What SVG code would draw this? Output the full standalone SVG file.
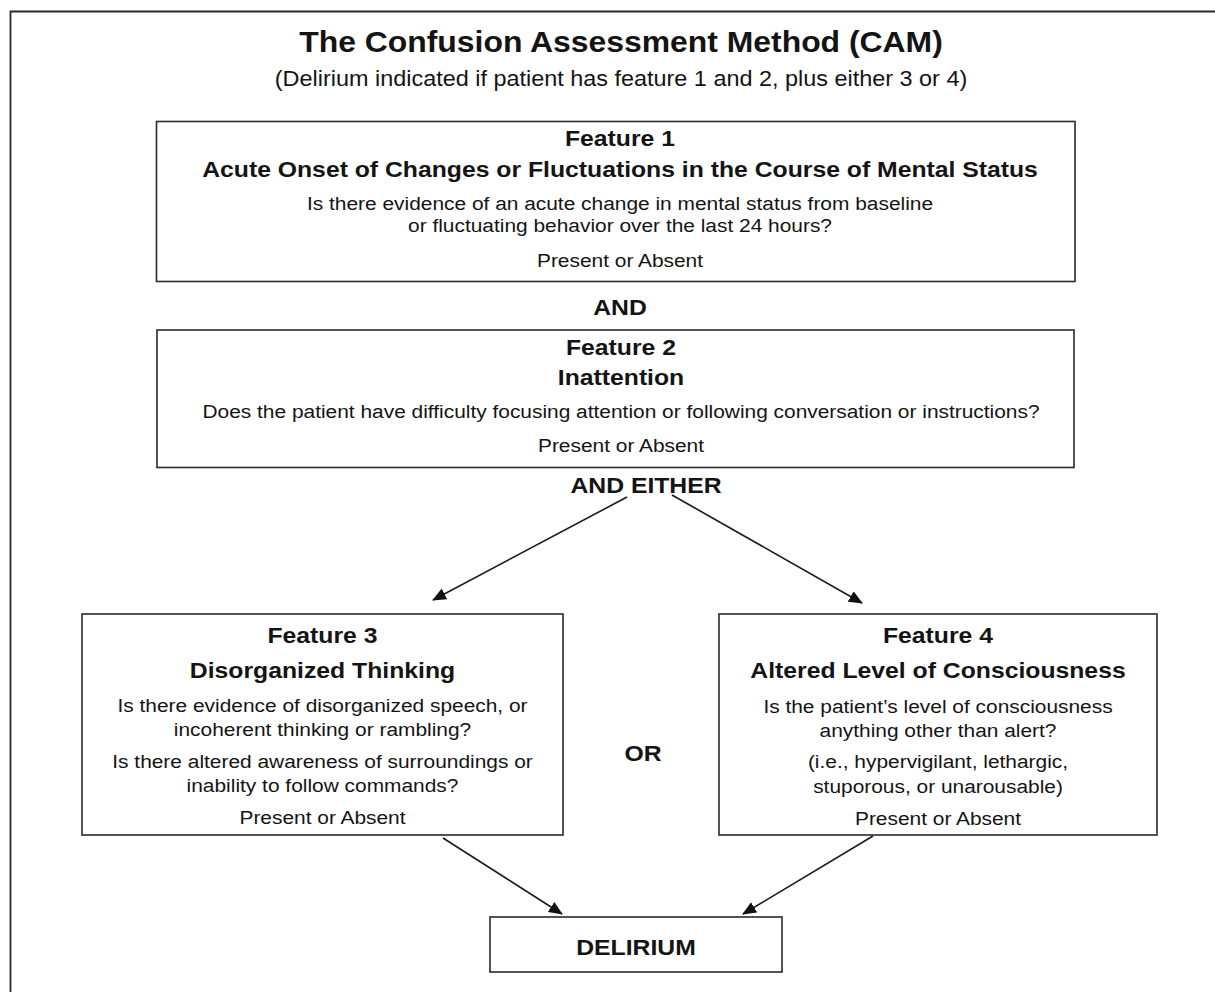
<svg xmlns="http://www.w3.org/2000/svg" width="1215" height="992" viewBox="0 0 1215 992">
<style>
  text { font-family: "Liberation Sans", Arial, sans-serif; fill: #141414; text-anchor: middle; }
  .title { font-size: 29px; font-weight: bold; }
  .sub { font-size: 21.3px; }
  .hd { font-size: 22.5px; font-weight: bold; }
  .bd { font-size: 19px; }
  .box { fill: #ffffff; stroke: #2a2a2a; stroke-width: 1.6; }
  .frame { fill: none; stroke: #2a2a2a; stroke-width: 1.8; }
  .conn { stroke: #1a1a1a; stroke-width: 1.6; fill: none; marker-end: url(#arr); }
</style>
<defs>
  <marker id="arr" viewBox="0 0 14 12" refX="13" refY="6" markerWidth="14" markerHeight="12" markerUnits="userSpaceOnUse" orient="auto">
    <path d="M0,0 L14,6 L0,12 Z" fill="#111"/>
  </marker>
</defs>
<rect x="0" y="0" width="1215" height="992" fill="#ffffff"/>
<path class="frame" d="M10.5,992 V11.5 H1215"/>

<g id="title">
  <g transform="translate(621 0) scale(1.1 1)">
    <text class="title" x="0" y="52">The Confusion Assessment Method (CAM)</text>
    <text class="sub" x="0" y="86">(Delirium indicated if patient has feature 1 and 2, plus either 3 or 4)</text>
  </g>
</g>

<g id="feature1">
  <rect class="box" x="156.5" y="121.5" width="918.5" height="160"/>
  <g transform="translate(620 0) scale(1.1 1)">
    <text class="hd" x="0" y="146">Feature 1</text>
    <text class="hd" x="0" y="177">Acute Onset of Changes or Fluctuations in the Course of Mental Status</text>
    <text class="bd" x="0" y="210">Is there evidence of an acute change in mental status from baseline</text>
    <text class="bd" x="0" y="232">or fluctuating behavior over the last 24 hours?</text>
    <text class="bd" x="0" y="267">Present or Absent</text>
  </g>
</g>

<g id="and1">
  <g transform="translate(620 0) scale(1.1 1)">
    <text class="hd" x="0" y="315">AND</text>
  </g>
</g>

<g id="feature2">
  <rect class="box" x="157" y="330" width="917" height="137.5"/>
  <g transform="translate(621 0) scale(1.1 1)">
    <text class="hd" x="0" y="355">Feature 2</text>
    <text class="hd" x="0" y="385">Inattention</text>
    <text class="bd" x="0" y="418">Does the patient have difficulty focusing attention or following conversation or instructions?</text>
    <text class="bd" x="0" y="452">Present or Absent</text>
  </g>
</g>

<g id="andeither">
  <g transform="translate(646 0) scale(1.1 1)">
    <text class="hd" x="0" y="493">AND EITHER</text>
  </g>
</g>

<g id="feature3">
  <rect class="box" x="82" y="614" width="481" height="221"/>
  <g transform="translate(322.5 0) scale(1.1 1)">
    <text class="hd" x="0" y="643">Feature 3</text>
    <text class="hd" x="0" y="678">Disorganized Thinking</text>
    <text class="bd" x="0" y="712">Is there evidence of disorganized speech, or</text>
    <text class="bd" x="0" y="736">incoherent thinking or rambling?</text>
    <text class="bd" x="0" y="768">Is there altered awareness of surroundings or</text>
    <text class="bd" x="0" y="792">inability to follow commands?</text>
    <text class="bd" x="0" y="824">Present or Absent</text>
  </g>
</g>

<g id="or">
  <g transform="translate(643 0) scale(1.1 1)">
    <text class="hd" x="0" y="761">OR</text>
  </g>
</g>

<g id="feature4">
  <rect class="box" x="719" y="614" width="438" height="221"/>
  <g transform="translate(938 0) scale(1.1 1)">
    <text class="hd" x="0" y="643">Feature 4</text>
    <text class="hd" x="0" y="678">Altered Level of Consciousness</text>
    <text class="bd" x="0" y="713">Is the patient’s level of consciousness</text>
    <text class="bd" x="0" y="737">anything other than alert?</text>
    <text class="bd" x="0" y="768">(i.e., hypervigilant, lethargic,</text>
    <text class="bd" x="0" y="793">stuporous, or unarousable)</text>
    <text class="bd" x="0" y="825">Present or Absent</text>
  </g>
</g>

<g id="delirium">
  <rect class="box" x="490" y="917" width="292" height="55"/>
  <g transform="translate(636 0) scale(1.1 1)">
    <text class="hd" x="0" y="955">DELIRIUM</text>
  </g>
</g>

<g id="connectors">
  <line class="conn" x1="627" y1="497" x2="433" y2="600"/>
  <line class="conn" x1="672" y1="495" x2="862" y2="603"/>
  <line class="conn" x1="443" y1="838" x2="562" y2="914"/>
  <line class="conn" x1="873" y1="836" x2="743" y2="914"/>
</g>
</svg>
